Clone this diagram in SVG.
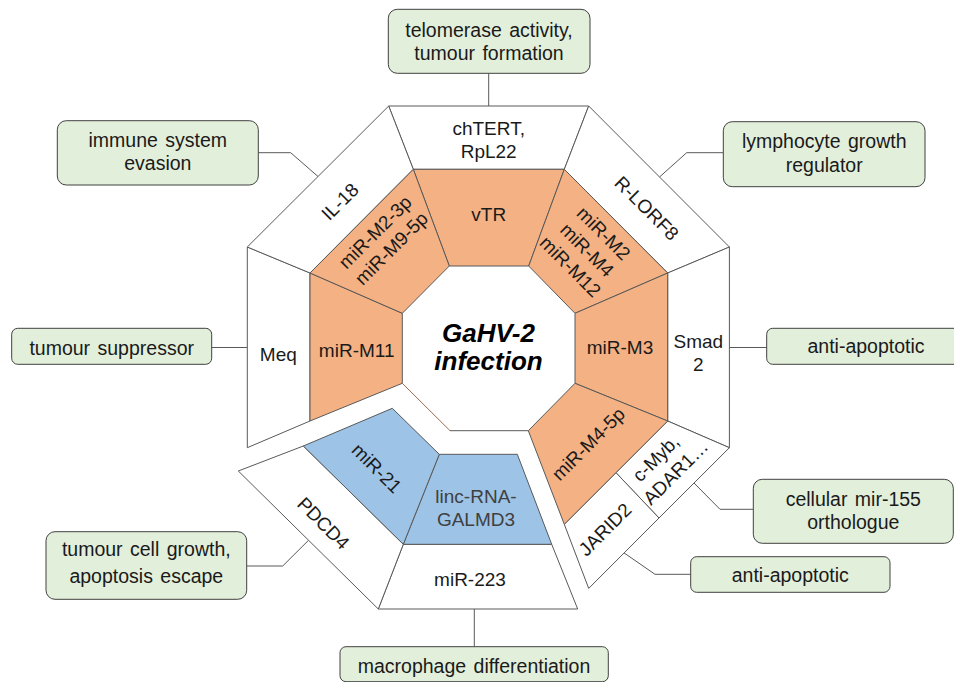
<svg xmlns="http://www.w3.org/2000/svg" width="954" height="682" viewBox="0 0 954 682">
<style>
.w{fill:#fff;stroke:#595959;stroke-width:1}
.o{fill:#F4B183;stroke:#595959;stroke-width:1}
.b{fill:#9DC3E6;stroke:#595959;stroke-width:1}
.box{fill:#E2EFDA;stroke:#404040;stroke-width:1}
.c{fill:none;stroke:#595959;stroke-width:1}
text{font-family:"Liberation Sans",Arial,sans-serif;font-size:19px;fill:#1a1a1a;text-anchor:middle}
.bt{font-size:19.5px;word-spacing:2px}
.ti{font-size:26px;font-weight:bold;font-style:italic;fill:#000}
.g{fill:#404040}
</style>
<rect width="954" height="682" fill="#fff"/>
<g id="connectors">
<polyline class="c" points="488.7,73.3 488.7,106"/>
<polyline class="c" points="258.3,152.7 290.7,152.7 318,176.5"/>
<polyline class="c" points="723.3,152.7 686.7,152.7 659.5,177"/>
<polyline class="c" points="211.7,347.5 247.3,347.5"/>
<polyline class="c" points="729.4,347.5 766.7,347.5"/>
<polyline class="c" points="753.3,509.3 720,509.3 694,483"/>
<polyline class="c" points="690.7,574.3 655,574.3 623.5,552.5"/>
<polyline class="c" points="246.7,566 282.7,566 308.3,540.5"/>
<polyline class="c" points="474.3,609 474.3,646.7"/>
<polyline points="402.3,383.3 450,430.7" fill="none" stroke="#9C6B4E" stroke-width="1"/>
<polyline points="450,430.7 528.3,430.7" fill="none" stroke="#595959" stroke-width="1"/>
</g>
<g id="sector-top">
<polygon class="w" points="388.7,106 588.7,106 564.3,169.3 413.3,169.3"/>
<text x="488.7" y="135">chTERT,</text>
<text x="488.7" y="158.3">RpL22</text>
<polygon class="o" points="413.3,169.3 564.3,169.3 528.7,266 449.3,266"/>
<text x="488.7" y="221">vTR</text>
</g>
<g id="sector-top-right">
<polygon class="w" points="588.7,106 729.4,247 667.7,273 564.3,169.3"/>
<text transform="translate(646.7,208.3) rotate(45)" y="6.5">R-LORF8</text>
<polygon class="o" points="564.3,169.3 667.7,273 575,313.3 528.7,266"/>
<g transform="translate(587,250) rotate(45)">
<text y="-17">miR-M2</text>
<text y="6.5">miR-M4</text>
<text y="30">miR-M12</text>
</g>
</g>
<g id="sector-right">
<polygon class="w" points="729.4,247 729.4,447.7 667.7,421 667.7,273"/>
<text x="698.3" y="348.3">Smad</text>
<text x="698.3" y="371">2</text>
<polygon class="o" points="667.7,273 667.7,421 575,383.3 575,313.3"/>
<text x="620" y="353.5">miR-M3</text>
</g>
<g id="sector-bottom-right">
<polygon class="w" points="729.4,447.7 659,518 616,472.7 667.7,421"/>
<g transform="translate(665,471.7) rotate(-45)">
<text x="3" y="-9.5">c-Myb,</text>
<text x="7" y="14.5">ADAR1…</text>
</g>
<polygon class="w" points="616,472.7 659,518 588.7,588.4 564.3,524.3"/>
<text transform="translate(605,529.5) rotate(-45)" y="6.5">JARID2</text>
<polygon class="o" points="667.7,421 564.3,524.3 528.3,430.7 575,383.3"/>
<text transform="translate(588.3,444) rotate(-45)" y="6.5">miR-M4-5p</text>
</g>
<g id="sector-bottom">
<polygon class="w" points="403.3,544.3 551.7,544.3 577.7,609 378.3,609"/>
<text x="470" y="586">miR-223</text>
<polygon class="b" points="439.3,454.3 517.3,454.3 551.7,544.3 403.3,544.3"/>
<text class="g" x="476" y="503.3">linc-RNA-</text>
<text class="g" x="476" y="526">GALMD3</text>
</g>
<g id="sector-bottom-left">
<polygon class="w" points="238.3,471 303.3,446 403.3,544.3 378.3,609"/>
<text transform="translate(323.3,523.3) rotate(45)" y="6.5">PDCD4</text>
<polygon class="b" points="303.3,446 392.3,408.3 439.3,454.3 403.3,544.3"/>
<text transform="translate(376.7,468.3) rotate(45)" y="6.5">miR-21</text>
</g>
<g id="sector-left">
<polygon class="w" points="247.3,247 310,273 310,421 247.3,447.7"/>
<text x="278.3" y="360.5">Meq</text>
<polygon class="o" points="310,273 402.3,313.3 402.3,383.3 310,421"/>
<text x="356.7" y="356.7">miR-M11</text>
</g>
<g id="sector-top-left">
<polygon class="w" points="388.7,106 413.3,169.3 310,273 247.3,247"/>
<text transform="translate(340,201.7) rotate(-45)" y="6.5">IL-18</text>
<polygon class="o" points="413.3,169.3 449.3,266 402.3,313.3 310,273"/>
<g transform="translate(383.3,240.3) rotate(-45)">
<text y="-5">miR-M2-3p</text>
<text y="18">miR-M9-5p</text>
</g>
</g>
<g id="center">
<text class="ti" x="488.5" y="341.7">GaHV-2</text>
<text class="ti" x="488.5" y="370">infection</text>
</g>
<g id="box-telomerase">
<rect class="box" x="388.3" y="9.3" width="201.7" height="64" rx="9"/>
<text class="bt" x="489" y="36.7">telomerase activity,</text>
<text class="bt" x="489" y="60">tumour formation</text>
</g>
<g id="box-immune">
<rect class="box" x="57.3" y="120.7" width="201" height="64.3" rx="9"/>
<text class="bt" x="157.8" y="147.3">immune system</text>
<text class="bt" x="157.8" y="170">evasion</text>
</g>
<g id="box-lymphocyte">
<rect class="box" x="723.3" y="121.7" width="201.7" height="65" rx="9"/>
<text class="bt" x="824.2" y="147.7">lymphocyte growth</text>
<text class="bt" x="824.2" y="171.7">regulator</text>
</g>
<g id="box-suppressor">
<rect class="box" x="11.7" y="328.3" width="200" height="36" rx="6"/>
<text class="bt" x="111.7" y="355">tumour suppressor</text>
</g>
<g id="box-antiapoptotic-1">
<rect class="box" x="766.7" y="328.3" width="200" height="36" rx="6"/>
<text class="bt" x="866" y="353.3">anti-apoptotic</text>
</g>
<g id="box-mir155">
<rect class="box" x="753.3" y="479.3" width="200" height="64" rx="9"/>
<text class="bt" x="853.3" y="506">cellular mir-155</text>
<text class="bt" x="853.3" y="529">orthologue</text>
</g>
<g id="box-antiapoptotic-2">
<rect class="box" x="690.7" y="556.7" width="199.3" height="35.6" rx="6"/>
<text class="bt" x="790.3" y="581.7">anti-apoptotic</text>
</g>
<g id="box-tumourcell">
<rect class="box" x="46" y="531.7" width="200.7" height="67.6" rx="9"/>
<text class="bt" x="146.3" y="556">tumour cell growth,</text>
<text class="bt" x="146.3" y="582.7">apoptosis escape</text>
</g>
<g id="box-macrophage">
<rect class="box" x="340" y="646.7" width="268.3" height="35" rx="6"/>
<text class="bt" x="474" y="672.7">macrophage differentiation</text>
</g>
</svg>
